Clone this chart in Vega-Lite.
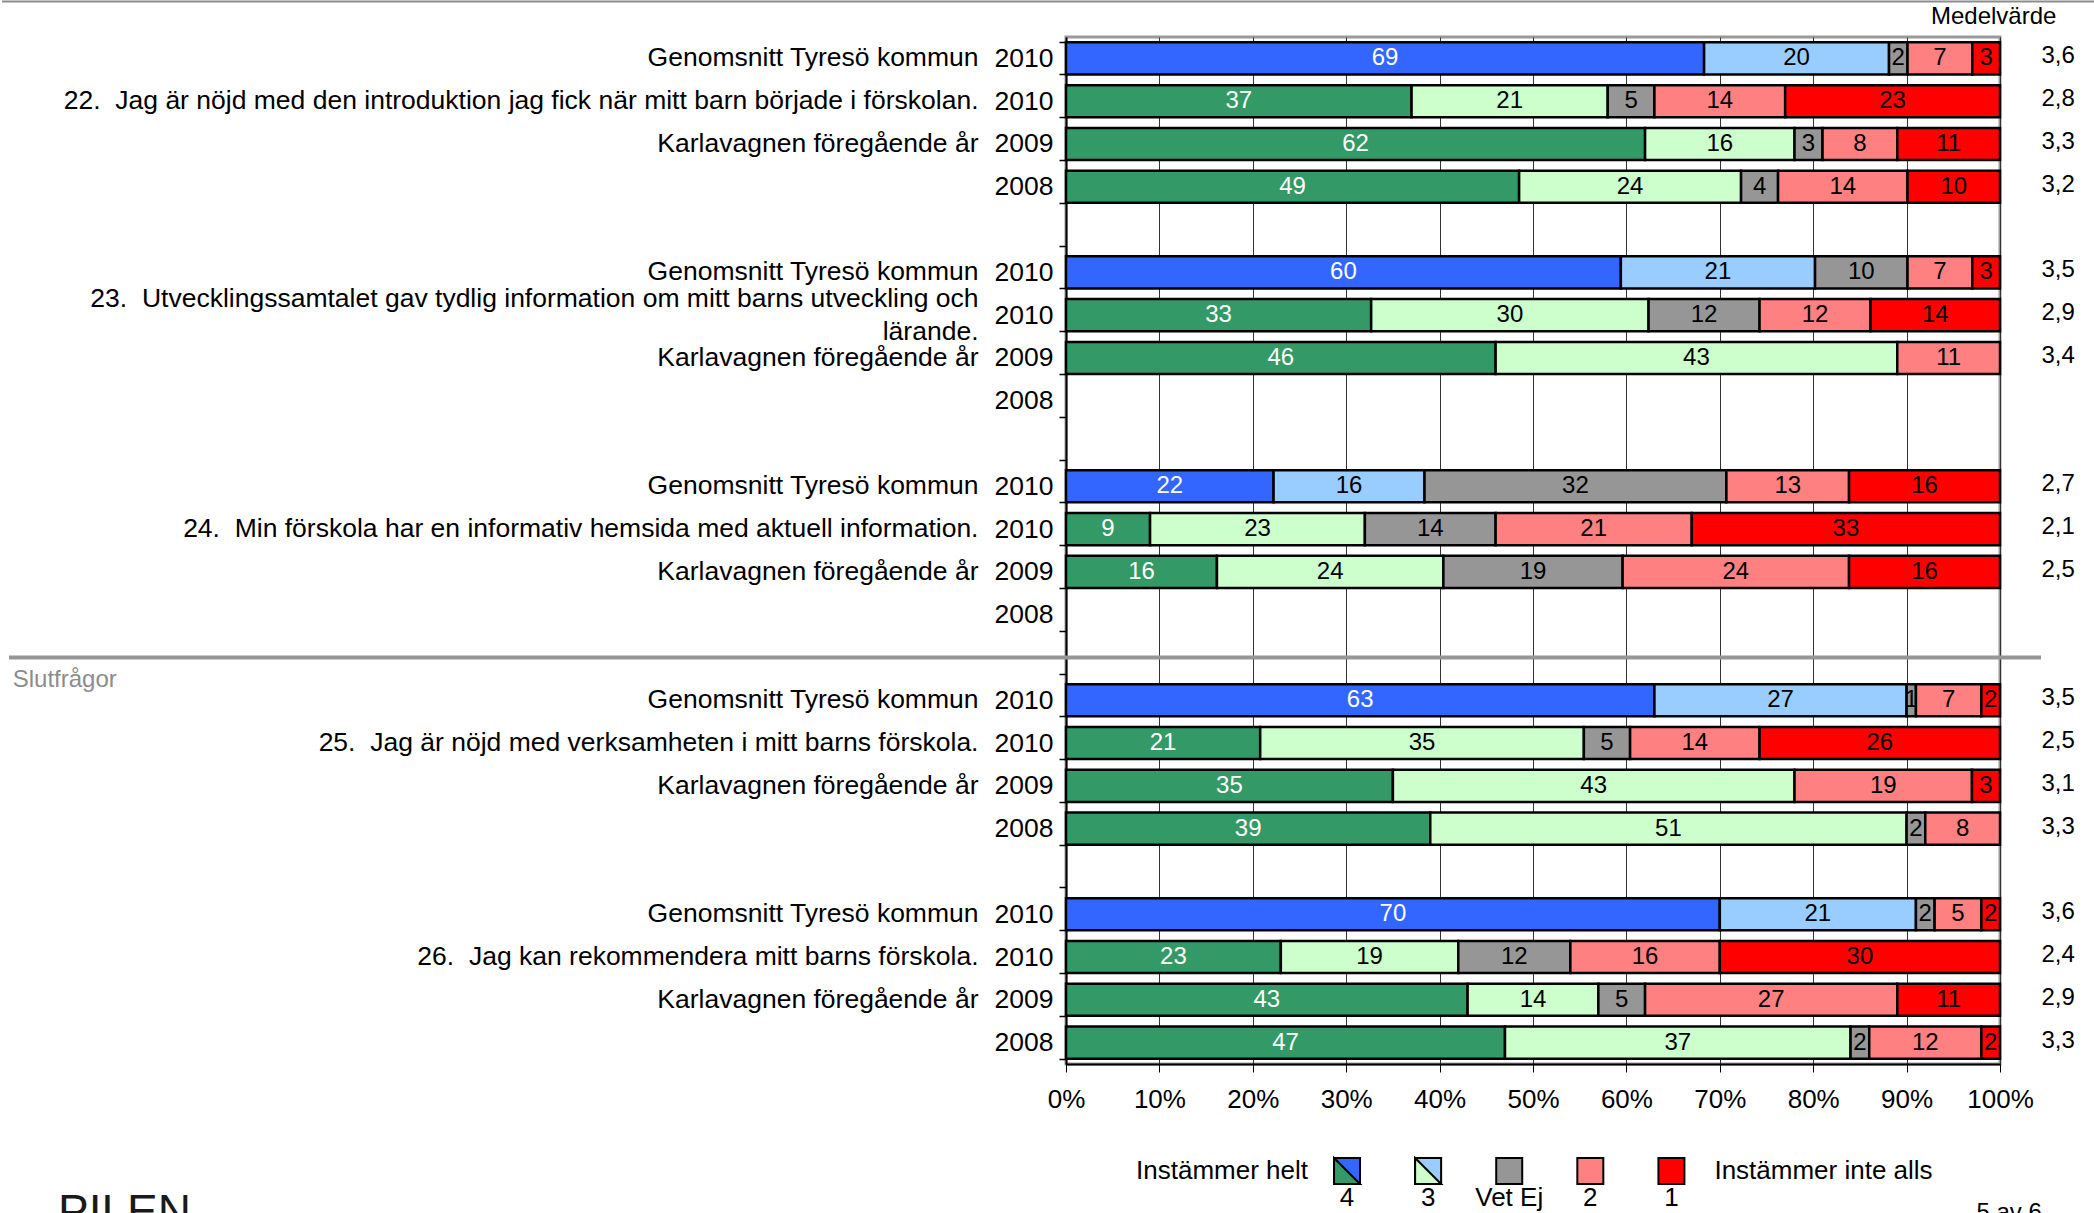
{
  "$schema": "https://vega.github.io/schema/vega-lite/v6.json",
  "background": "white",
  "padding": {"left": 0, "top": 0, "right": 0, "bottom": 0},
  "config": {"font": "Liberation Sans", "view": {"stroke": null}},
  "spacing": 0,
  "title": {"text": "PILEN", "orient": "bottom", "anchor": "start", "frame": "bounds", "offset": -37, "dx": 57, "fontSize": 46, "fontWeight": 300, "color": "#1a1a1a"},
  "datasets": {
    "rows": [
      {"rid": "01", "label": "Genomsnitt Tyresö kommun", "year": "2010", "mean": "3,6", "note": ""},
      {"rid": "02", "label": "22.\u00a0 Jag är nöjd med den introduktion jag fick när mitt barn började i förskolan.", "year": "2010", "mean": "2,8", "note": ""},
      {"rid": "03", "label": "Karlavagnen föregående år", "year": "2009", "mean": "3,3", "note": ""},
      {"rid": "04", "label": "", "year": "2008", "mean": "3,2", "note": ""},
      {"rid": "05", "label": "", "year": "", "mean": "", "note": ""},
      {"rid": "06", "label": "Genomsnitt Tyresö kommun", "year": "2010", "mean": "3,5", "note": ""},
      {"rid": "07", "label": "23.\u00a0 Utvecklingssamtalet gav tydlig information om mitt barns utveckling och~lärande.", "year": "2010", "mean": "2,9", "note": ""},
      {"rid": "08", "label": "Karlavagnen föregående år", "year": "2009", "mean": "3,4", "note": ""},
      {"rid": "09", "label": "", "year": "2008", "mean": "", "note": ""},
      {"rid": "10", "label": "", "year": "", "mean": "", "note": ""},
      {"rid": "11", "label": "Genomsnitt Tyresö kommun", "year": "2010", "mean": "2,7", "note": ""},
      {"rid": "12", "label": "24.\u00a0 Min förskola har en informativ hemsida med aktuell information.", "year": "2010", "mean": "2,1", "note": ""},
      {"rid": "13", "label": "Karlavagnen föregående år", "year": "2009", "mean": "2,5", "note": ""},
      {"rid": "14", "label": "", "year": "2008", "mean": "", "note": ""},
      {"rid": "15", "label": "", "year": "", "mean": "", "note": "Slutfrågor"},
      {"rid": "16", "label": "Genomsnitt Tyresö kommun", "year": "2010", "mean": "3,5", "note": ""},
      {"rid": "17", "label": "25.\u00a0 Jag är nöjd med verksamheten i mitt barns förskola.", "year": "2010", "mean": "2,5", "note": ""},
      {"rid": "18", "label": "Karlavagnen föregående år", "year": "2009", "mean": "3,1", "note": ""},
      {"rid": "19", "label": "", "year": "2008", "mean": "3,3", "note": ""},
      {"rid": "20", "label": "", "year": "", "mean": "", "note": ""},
      {"rid": "21", "label": "Genomsnitt Tyresö kommun", "year": "2010", "mean": "3,6", "note": ""},
      {"rid": "22", "label": "26.\u00a0 Jag kan rekommendera mitt barns förskola.", "year": "2010", "mean": "2,4", "note": ""},
      {"rid": "23", "label": "Karlavagnen föregående år", "year": "2009", "mean": "2,9", "note": ""},
      {"rid": "24", "label": "", "year": "2008", "mean": "3,3", "note": ""}
    ],
    "bars": [
      {"rid": "01", "c": "K4", "pct": 69}, {"rid": "01", "c": "K3", "pct": 20}, {"rid": "01", "c": "V", "pct": 2}, {"rid": "01", "c": "2", "pct": 7}, {"rid": "01", "c": "1", "pct": 3},
      {"rid": "02", "c": "S4", "pct": 37}, {"rid": "02", "c": "S3", "pct": 21}, {"rid": "02", "c": "V", "pct": 5}, {"rid": "02", "c": "2", "pct": 14}, {"rid": "02", "c": "1", "pct": 23},
      {"rid": "03", "c": "S4", "pct": 62}, {"rid": "03", "c": "S3", "pct": 16}, {"rid": "03", "c": "V", "pct": 3}, {"rid": "03", "c": "2", "pct": 8}, {"rid": "03", "c": "1", "pct": 11},
      {"rid": "04", "c": "S4", "pct": 49}, {"rid": "04", "c": "S3", "pct": 24}, {"rid": "04", "c": "V", "pct": 4}, {"rid": "04", "c": "2", "pct": 14}, {"rid": "04", "c": "1", "pct": 10},
      {"rid": "06", "c": "K4", "pct": 60}, {"rid": "06", "c": "K3", "pct": 21}, {"rid": "06", "c": "V", "pct": 10}, {"rid": "06", "c": "2", "pct": 7}, {"rid": "06", "c": "1", "pct": 3},
      {"rid": "07", "c": "S4", "pct": 33}, {"rid": "07", "c": "S3", "pct": 30}, {"rid": "07", "c": "V", "pct": 12}, {"rid": "07", "c": "2", "pct": 12}, {"rid": "07", "c": "1", "pct": 14},
      {"rid": "08", "c": "S4", "pct": 46}, {"rid": "08", "c": "S3", "pct": 43}, {"rid": "08", "c": "2", "pct": 11},
      {"rid": "11", "c": "K4", "pct": 22}, {"rid": "11", "c": "K3", "pct": 16}, {"rid": "11", "c": "V", "pct": 32}, {"rid": "11", "c": "2", "pct": 13}, {"rid": "11", "c": "1", "pct": 16},
      {"rid": "12", "c": "S4", "pct": 9}, {"rid": "12", "c": "S3", "pct": 23}, {"rid": "12", "c": "V", "pct": 14}, {"rid": "12", "c": "2", "pct": 21}, {"rid": "12", "c": "1", "pct": 33},
      {"rid": "13", "c": "S4", "pct": 16}, {"rid": "13", "c": "S3", "pct": 24}, {"rid": "13", "c": "V", "pct": 19}, {"rid": "13", "c": "2", "pct": 24}, {"rid": "13", "c": "1", "pct": 16},
      {"rid": "16", "c": "K4", "pct": 63}, {"rid": "16", "c": "K3", "pct": 27}, {"rid": "16", "c": "V", "pct": 1}, {"rid": "16", "c": "2", "pct": 7}, {"rid": "16", "c": "1", "pct": 2},
      {"rid": "17", "c": "S4", "pct": 21}, {"rid": "17", "c": "S3", "pct": 35}, {"rid": "17", "c": "V", "pct": 5}, {"rid": "17", "c": "2", "pct": 14}, {"rid": "17", "c": "1", "pct": 26},
      {"rid": "18", "c": "S4", "pct": 35}, {"rid": "18", "c": "S3", "pct": 43}, {"rid": "18", "c": "2", "pct": 19}, {"rid": "18", "c": "1", "pct": 3},
      {"rid": "19", "c": "S4", "pct": 39}, {"rid": "19", "c": "S3", "pct": 51}, {"rid": "19", "c": "V", "pct": 2}, {"rid": "19", "c": "2", "pct": 8},
      {"rid": "21", "c": "K4", "pct": 70}, {"rid": "21", "c": "K3", "pct": 21}, {"rid": "21", "c": "V", "pct": 2}, {"rid": "21", "c": "2", "pct": 5}, {"rid": "21", "c": "1", "pct": 2},
      {"rid": "22", "c": "S4", "pct": 23}, {"rid": "22", "c": "S3", "pct": 19}, {"rid": "22", "c": "V", "pct": 12}, {"rid": "22", "c": "2", "pct": 16}, {"rid": "22", "c": "1", "pct": 30},
      {"rid": "23", "c": "S4", "pct": 43}, {"rid": "23", "c": "S3", "pct": 14}, {"rid": "23", "c": "V", "pct": 5}, {"rid": "23", "c": "2", "pct": 27}, {"rid": "23", "c": "1", "pct": 11},
      {"rid": "24", "c": "S4", "pct": 47}, {"rid": "24", "c": "S3", "pct": 37}, {"rid": "24", "c": "V", "pct": 2}, {"rid": "24", "c": "2", "pct": 12}, {"rid": "24", "c": "1", "pct": 2}
    ],
    "legend": [
      {"k": "4", "top": "K4", "bot": "S4", "left": "Instämmer helt"},
      {"k": "3", "top": "K3", "bot": "S3"},
      {"k": "Vet Ej", "top": "V"},
      {"k": "2", "top": "2"},
      {"k": "1", "top": "1", "right": "Instämmer inte alls", "page": "5 av 6"}
    ]
  },
  "vconcat": [
    {
      "width": 934,
      "height": 3,
      "view": {"stroke": null},
      "data": {"values": [{"line": "top"}]},
      "mark": {"type": "rule", "color": "#8c8c8c", "strokeWidth": 2},
      "encoding": {
        "x": {"datum": -1.1392, "scale": {"domain": [0, 1]}, "axis": null},
        "x2": {"datum": 1.1028}
      }
    },
    {
      "width": 934,
      "height": 1027,
      "title": {"text": "Medelvärde", "anchor": "end", "fontSize": 24, "fontWeight": "normal", "offset": -5, "dx": -18, "color": "black"},
      "view": {"stroke": "#9a9a9a", "strokeWidth": 3},
      "layer": [
        {
          "data": {"name": "bars"},
          "transform": [
            {"lookup": "rid", "from": {"data": {"name": "rows"}, "key": "rid", "fields": ["label", "year", "mean"]}},
            {"calculate": "datum.rid + '|' + datum.label + '|' + datum.year + '|' + datum.mean", "as": "key"},
            {"stack": "pct", "groupby": ["rid"], "offset": "normalize", "as": ["x0", "x1"]}
          ],
          "mark": {"type": "bar", "stroke": "black", "strokeWidth": 2.5},
          "encoding": {
            "y": {"field": "key", "type": "nominal", "scale": {"paddingInner": 0.25, "paddingOuter": 0.125},
              "axis": {"orient": "left", "title": null, "labelExpr": "split(datum.value, '|')[2]", "labelFontSize": 26.5, "labelColor": "black",
                "domainColor": "black", "domainWidth": 2, "tickColor": "black", "tickWidth": 1.5, "tickSize": 7, "tickBand": "extent",
                "labelPadding": 6, "labelLimit": 300, "labelOverlap": false, "grid": false, "labelBaseline": "middle"}},
            "x": {"field": "x0", "type": "quantitative", "scale": {"domain": [0, 1]},
              "axis": {"values": [0, 0.1, 0.2, 0.3, 0.4, 0.5, 0.6, 0.7, 0.8, 0.9, 1], "format": ".0%", "title": null, "labelFontSize": 26, "labelColor": "black",
                "grid": true, "gridColor": "#333333", "gridWidth": 1, "domainColor": "black", "domainWidth": 2, "tickColor": "black", "tickSize": 8,
                "labelPadding": 14, "labelFlush": false}},
            "x2": {"field": "x1"},
            "color": {"field": "c", "type": "nominal", "legend": null,
              "scale": {"domain": ["K4", "K3", "S4", "S3", "V", "2", "1"], "range": ["#3366ff", "#99ccff", "#339966", "#ccffcc", "#969696", "#ff8080", "#ff0000"]}}
          }
        },
        {
          "data": {"name": "bars"},
          "transform": [
            {"lookup": "rid", "from": {"data": {"name": "rows"}, "key": "rid", "fields": ["label", "year", "mean"]}},
            {"calculate": "datum.rid + '|' + datum.label + '|' + datum.year + '|' + datum.mean", "as": "key"},
            {"stack": "pct", "groupby": ["rid"], "offset": "normalize", "as": ["x0", "x1"]},
            {"calculate": "(datum.x0 + datum.x1) / 2", "as": "xm"}
          ],
          "mark": {"type": "text", "fontSize": 24, "baseline": "middle", "align": "center"},
          "encoding": {
            "y": {"field": "key", "type": "nominal",
              "axis": {"orient": "left", "title": null, "domain": false, "ticks": false, "grid": false,
                "labelExpr": "split(split(datum.value, '|')[1], '~')", "labelFontSize": 26.5, "labelPadding": 88, "labelLimit": 1200,
                "labelLineHeight": 33, "labelColor": "black", "labelOverlap": false, "labelBaseline": "middle",
                "labelOffset": {"condition": {"test": "indexof(datum.value, '~') >= 0", "value": -16.5}, "value": 0}}},
            "x": {"field": "xm", "type": "quantitative"},
            "text": {"field": "pct", "type": "quantitative"},
            "color": {"condition": {"test": "datum.c == 'K4' || datum.c == 'S4'", "value": "white"}, "value": "black"}
          }
        },
        {
          "data": {"name": "rows"},
          "transform": [
            {"calculate": "datum.rid + '|' + datum.label + '|' + datum.year + '|' + datum.mean", "as": "key"}
          ],
          "mark": {"type": "text", "fontSize": 24, "align": "left", "baseline": "middle", "dy": 23, "color": "#8c8c8c"},
          "encoding": {
            "y": {"field": "key", "type": "nominal",
              "axis": {"orient": "right", "title": null, "domain": false, "ticks": false, "grid": false,
                "labelExpr": "split(datum.value, '|')[3]", "labelFontSize": 24, "labelPadding": 41, "labelAlign": "left",
                "labelOffset": -2, "labelColor": "black", "labelOverlap": false, "labelBaseline": "middle"}},
            "x": {"datum": -1.1277},
            "text": {"field": "note"}
          }
        },
        {
          "data": {"name": "rows"},
          "transform": [
            {"filter": "datum.note != ''"},
            {"calculate": "datum.rid + '|' + datum.label + '|' + datum.year + '|' + datum.mean", "as": "key"}
          ],
          "mark": {"type": "rule", "color": "#969696", "strokeWidth": 4},
          "encoding": {
            "y": {"field": "key", "type": "nominal", "axis": null},
            "x": {"datum": -1.1317},
            "x2": {"datum": 1.0439}
          }
        }
      ],
      "resolve": {"axis": {"y": "independent"}}
    },
    {
      "width": 934,
      "height": 114,
      "view": {"stroke": null},
      "data": {"name": "legend"},
      "encoding": {
        "x": {"field": "k", "type": "nominal", "axis": null,
          "scale": {"type": "point", "domain": ["a", "b", "c", "4", "3", "Vet Ej", "2", "1", "d", "e", "f", "g"], "padding": 0.2585, "align": 0.9}}
      },
      "layer": [
        {
          "mark": {"type": "point", "shape": "square", "size": 676, "filled": true, "opacity": 1, "stroke": "black", "strokeWidth": 2},
          "encoding": {"color": {"field": "top", "type": "nominal", "legend": null}}
        },
        {
          "transform": [{"filter": "isValid(datum.bot)"}],
          "mark": {"type": "point", "shape": "M-1,-1L-1,1L1,1Z", "size": 676, "filled": true, "opacity": 1, "stroke": "black", "strokeWidth": 2},
          "encoding": {"color": {"field": "bot", "type": "nominal", "legend": null}}
        },
        {
          "mark": {"type": "text", "fontSize": 26, "baseline": "middle", "align": "center", "dy": 27, "color": "black"},
          "encoding": {"text": {"field": "k"}}
        },
        {
          "transform": [{"filter": "isValid(datum.left)"}],
          "mark": {"type": "text", "fontSize": 26, "baseline": "middle", "align": "right", "dx": -39, "color": "black"},
          "encoding": {"text": {"field": "left"}}
        },
        {
          "transform": [{"filter": "isValid(datum.right)"}],
          "mark": {"type": "text", "fontSize": 26, "baseline": "middle", "align": "left", "dx": 43, "color": "black"},
          "encoding": {"text": {"field": "right"}}
        },
        {
          "transform": [{"filter": "isValid(datum.page)"}],
          "mark": {"type": "text", "fontSize": 24, "baseline": "top", "align": "left", "dx": 305, "dy": 30, "color": "black"},
          "encoding": {"text": {"field": "page"}}
        }
      ]
    }
  ]
}
